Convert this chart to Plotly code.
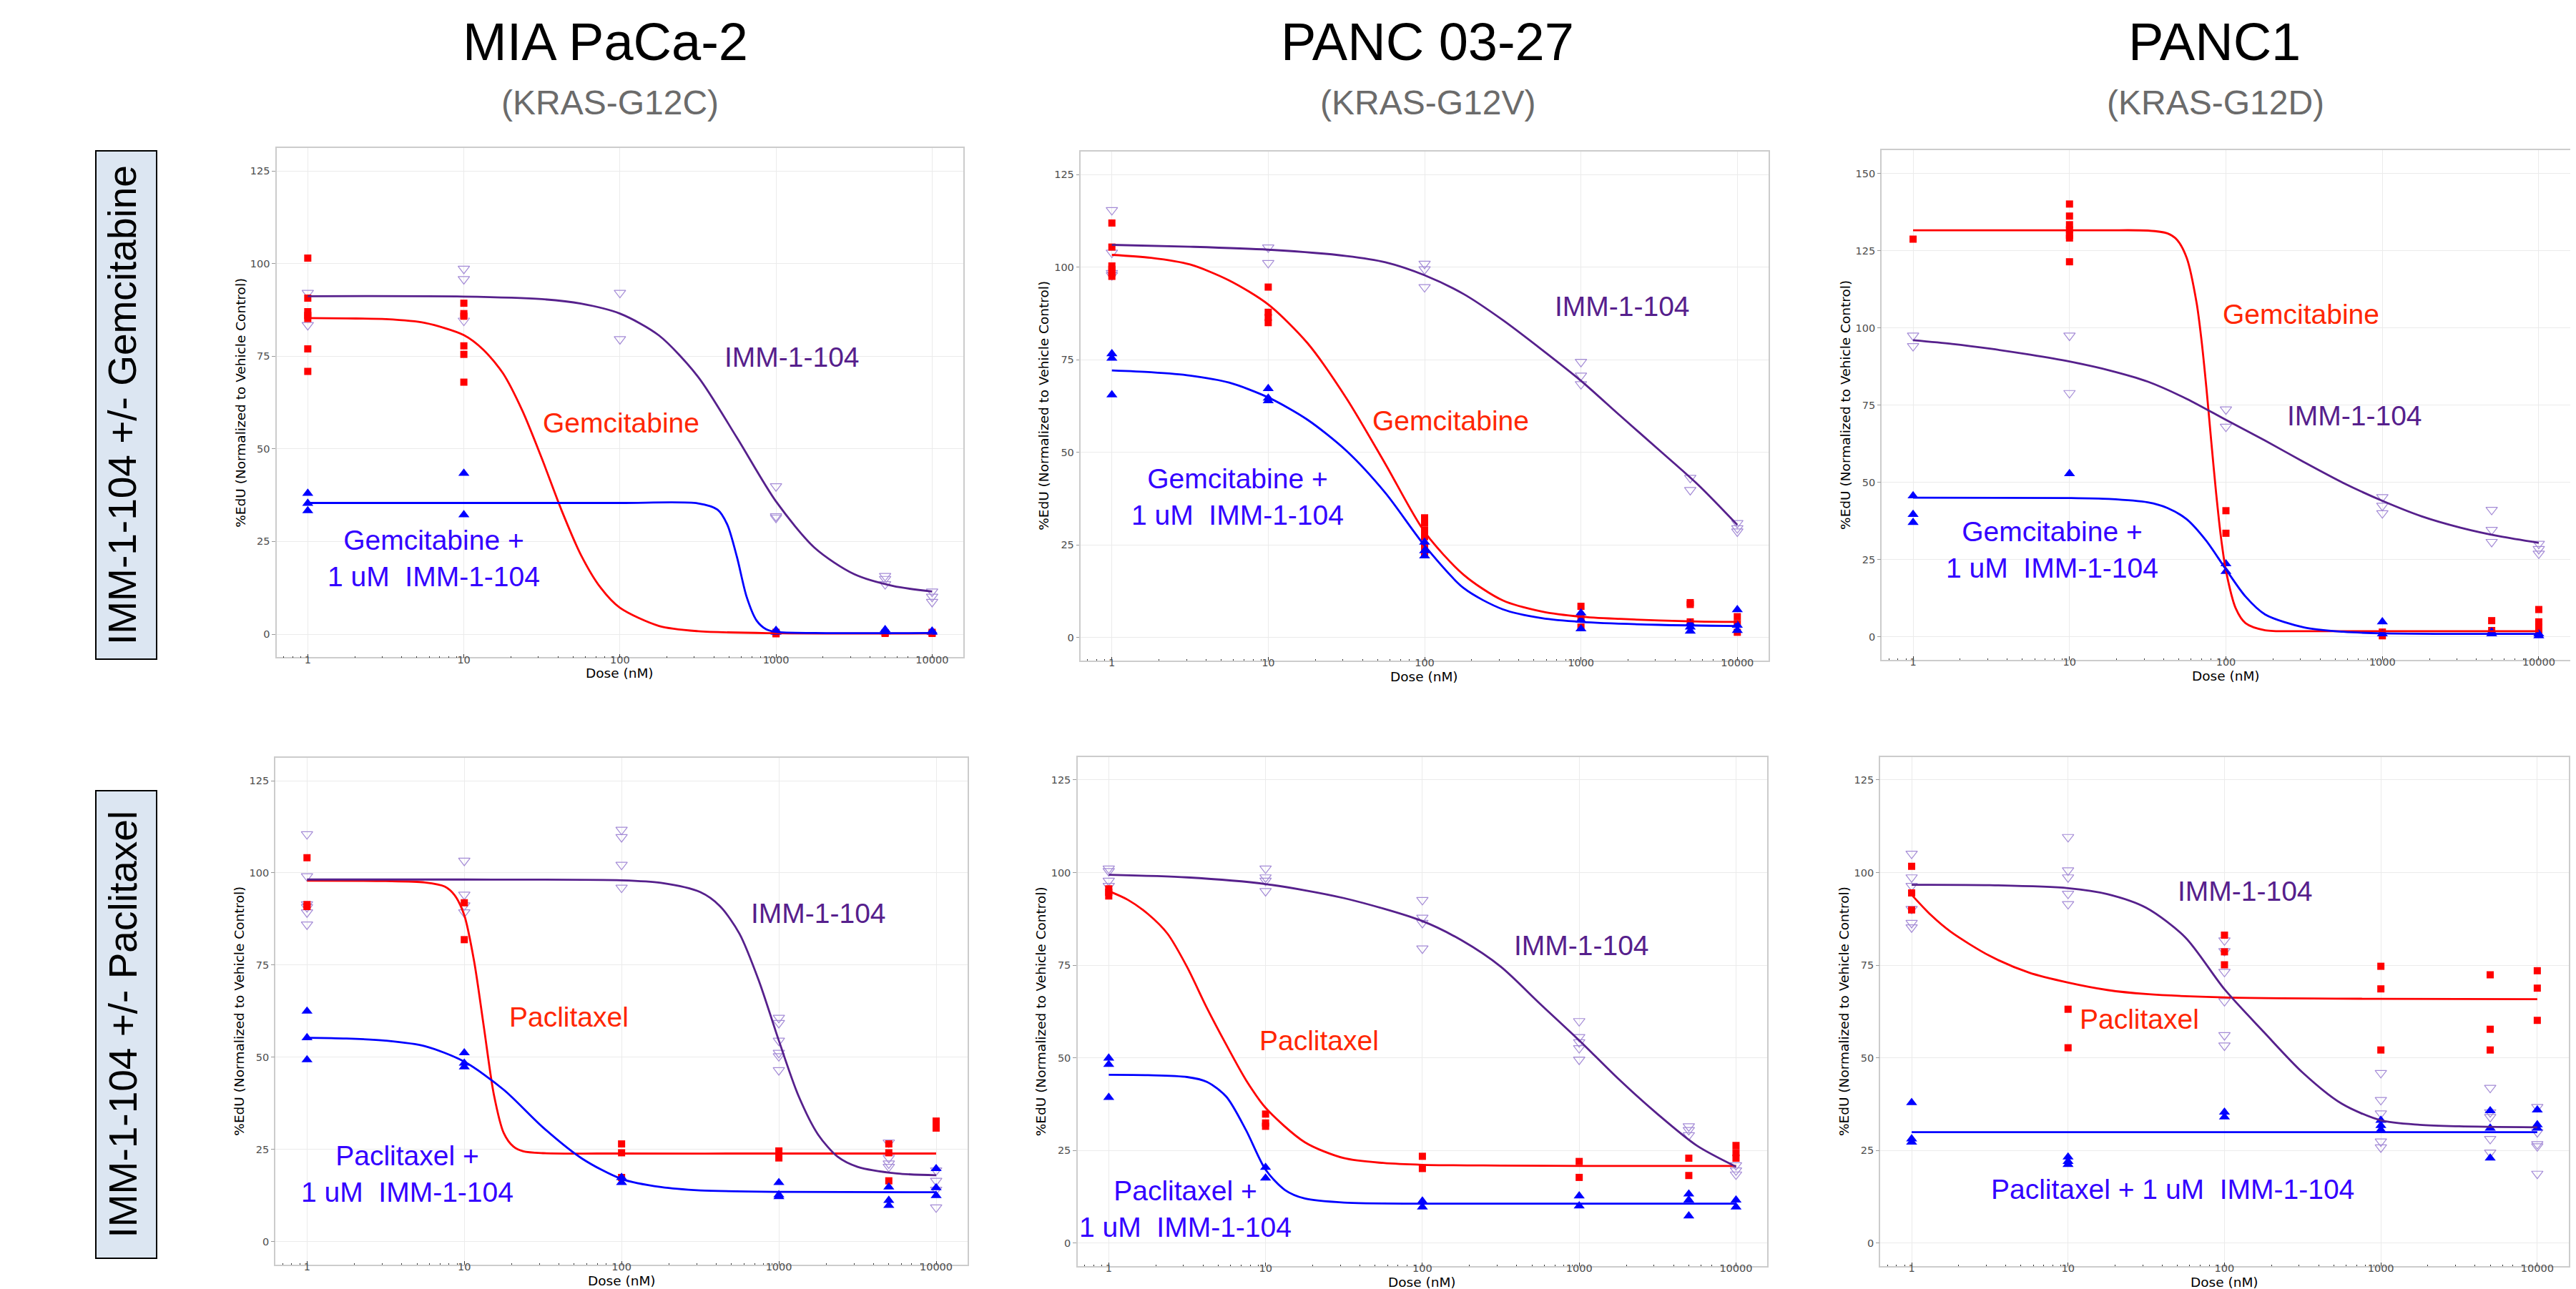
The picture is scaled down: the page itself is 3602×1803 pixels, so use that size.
import plotly.graph_objects as go

# ---------------------------------------------------------------- data
DOSES = [1, 10, 100, 1000, 5000, 10000]
DOSE_TICKS = [1, 10, 100, 1000, 10000]
DOSE_TICK_LABELS = ["1", "10", "100", "1000", "10000"]
Y_TICKS_125 = [0, 25, 50, 75, 100, 125]
Y_TICKS_150 = [0, 25, 50, 75, 100, 125, 150]

CELL_LINES = ["MIA PaCa-2", "PANC 03-27", "PANC1"]
MUTATIONS = ["(KRAS-G12C)", "(KRAS-G12V)", "(KRAS-G12D)"]
ROW_LABELS = ["IMM-1-104 +/- Gemcitabine", "IMM-1-104 +/- Paclitaxel"]
DRUGS = ["Gemcitabine", "Paclitaxel"]
IMM_LABEL = "IMM-1-104"
COMBO_LABELS = ["Gemcitabine +<br>1 uM  IMM-1-104", "Gemcitabine +<br>1 uM  IMM-1-104",
                "Gemcitabine +<br>1 uM  IMM-1-104", "Paclitaxel +<br>1 uM  IMM-1-104",
                "Paclitaxel +<br>1 uM  IMM-1-104", "Paclitaxel + 1 uM  IMM-1-104"]
Y_TITLE = "%EdU (Normalized to Vehicle Control)"
X_TITLE = "Dose (nM)"

# replicate points, one inner list per entry of DOSES
A_GEM_PTS = [[101.5, 90.7, 87.0, 86.0, 85.2, 77.0, 70.9], [89.3, 86.5, 85.8, 77.8, 75.5, 68.0], [], [0.3, 0.1, 0.5], [0.2, 0.4], [0.2, 0.5]]
A_COMBO_PTS = [[38.0, 35.3, 33.3], [43.4, 32.2], [], [1.0, 0.5], [1.2, 0.6], [0.5, 0.8]]
A_IMM_PTS = [[92.1, 83.4], [98.6, 95.8, 84.6], [92.1, 79.6], [39.9, 31.8, 31.4], [15.7, 14.9, 13.5], [11.5, 10.1, 8.7]]

B_GEM_PTS = [[111.9, 105.4, 100.3, 99.4, 98.4, 97.5], [94.6, 87.8, 86.4, 85.0], [32.3, 30.9, 29.0, 27.2, 24.8, 22.9], [8.4, 5.1, 2.8], [9.4, 8.9, 4.2], [5.6, 3.7, 1.4]]
B_COMBO_PTS = [[76.6, 75.4, 65.5], [67.2, 64.6, 63.9], [25.7, 23.4, 22.0], [6.6, 4.7, 2.3], [3.7, 2.8, 1.7], [7.5, 3.3, 1.9]]
B_IMM_PTS = [[115.4, 103.9, 97.8, 98.4], [105.3, 101.1], [100.9, 99.4, 94.6], [74.4, 70.7, 68.4], [43.1, 39.8], [30.9, 29.5, 28.6]]

C_GEM_PTS = [[128.7], [140.1, 136.2, 133.4, 131.7, 130.0, 129.1, 121.4], [40.8, 33.5], [1.5, 0.3], [5.2, 2.0], [8.8, 4.8, 3.1, 0.9]]
C_COMBO_PTS = [[45.6, 39.6, 37.0], [52.8], [23.6, 21.1], [4.8, 0.9], [1.5, 0.9], [0.9, 0.3]]
C_IMM_PTS = [[97.5, 94.1], [97.5, 78.9], [73.6, 68.0], [45.2, 42.4, 40.0], [41.1, 34.6, 30.7], [30.1, 28.4, 26.9]]

D_PAC_PTS = [[104.1, 91.4, 90.9], [91.9, 81.9], [26.5, 24.1, 17.4], [24.6, 22.7], [26.5, 24.1, 16.5], [32.7, 30.8]]
D_COMBO_PTS = [[62.5, 55.3, 49.3], [51.2, 48.4, 47.4], [17.4, 16.0], [16.0, 12.7, 12.2], [14.8, 11.2, 9.8], [19.8, 14.6, 12.5]]
D_IMM_PTS = [[110.5, 99.1, 91.5, 90.7, 89.3, 86.0], [103.3, 94.1, 91.2, 89.3], [111.7, 109.7, 102.2, 96.0], [60.7, 59.3, 54.5, 51.2, 50.3, 46.5], [26.9, 22.7, 21.2, 20.3], [19.3, 16.5, 14.1, 9.3]]

E_PAC_PTS = [[95.6, 94.7, 93.7], [34.8, 32.4, 31.5], [23.4, 20.1], [22.0, 17.7], [22.9, 18.2], [26.3, 24.4, 22.9]]
E_COMBO_PTS = [[49.9, 48.2, 39.3], [20.4, 17.5], [11.3, 9.7], [12.7, 10.0], [13.2, 11.6, 7.3], [11.6, 9.7]]
E_IMM_PTS = [[101.1, 100.4, 97.8, 96.4], [101.1, 98.7, 97.8, 95.0], [92.6, 87.8, 86.4, 79.5], [59.9, 55.6, 54.2, 52.6, 49.5], [31.5, 30.5, 29.1], [21.0, 19.6, 18.5]]

F_PAC_PTS = [[101.7, 94.5, 89.9], [63.1, 52.7], [83.1, 78.6, 75.1], [74.7, 68.6, 52.1], [72.4, 57.7, 52.1], [73.5, 68.8, 60.1]]
F_COMBO_PTS = [[37.9, 28.1, 27.2], [23.2, 22.0, 21.2], [35.3, 34.0], [33.1, 31.7, 30.5], [35.7, 31.0, 22.9], [35.9, 31.9, 31.0]]
F_IMM_PTS = [[105.1, 98.7, 96.4, 90.2, 86.4, 85.2], [109.6, 100.6, 98.7, 94.3, 91.5], [81.7, 78.8, 73.2, 65.3, 56.1, 53.3], [45.9, 38.6, 35.0, 27.4, 25.8], [41.9, 35.3, 34.0, 28.1, 24.4], [36.7, 29.9, 26.7, 26.1, 18.7]]

# fitted dose-response curves (dose in nM, value in %)
A_GEM_FIT_DOSE = [1, 1.78, 3.16, 5.62, 10, 13.3, 17.8, 23.7, 31.6, 42.2, 56.2, 75, 100, 178, 316, 1000, 10000]
A_GEM_FIT = [85.3, 85.2, 85.0, 84.0, 80.7, 76.8, 70.4, 60.3, 47.4, 33.5, 21.4, 12.6, 7.1, 2.2, 0.8, 0.25, 0.2]
A_COMBO_FIT_DOSE = [1, 10, 100, 316, 422, 487, 562, 649, 750, 866, 1000, 1778, 10000]
A_COMBO_FIT = [35.4, 35.4, 35.4, 35.3, 33.6, 29.6, 20.8, 10.0, 3.7, 1.3, 0.6, 0.3, 0.3]
A_IMM_FIT_DOSE = [1, 10, 31.6, 56.2, 100, 178, 316, 562, 1000, 1778, 3162, 5623, 10000]
A_IMM_FIT = [91.2, 91.1, 90.4, 89.2, 86.5, 80.6, 69.5, 53.0, 35.8, 23.2, 16.2, 13.0, 11.5]

B_GEM_FIT_DOSE = [1, 1.78, 3.16, 5.62, 10, 17.8, 31.6, 56.2, 100, 178, 316, 562, 1000, 1778, 3162, 5623, 10000]
B_GEM_FIT = [103.3, 102.5, 100.7, 96.4, 89.9, 79.5, 64.6, 46.8, 28.5, 16.9, 10.0, 7.0, 5.6, 5.0, 4.6, 4.3, 4.2]
B_COMBO_FIT_DOSE = [1, 1.78, 3.16, 5.62, 10, 17.8, 31.6, 56.2, 100, 178, 316, 562, 1000, 3162, 10000]
B_COMBO_FIT = [72.1, 71.6, 70.7, 68.8, 64.8, 58.8, 50.4, 39.0, 24.8, 13.3, 7.6, 5.2, 4.2, 3.4, 3.1]
B_IMM_FIT_DOSE = [1, 3.16, 10, 31.6, 56.2, 100, 178, 316, 562, 1000, 1778, 3162, 5623, 10000]
B_IMM_FIT = [106.0, 105.5, 104.7, 103.0, 101.3, 97.8, 92.7, 85.7, 77.7, 69.3, 59.9, 50.6, 41.2, 30.4]

C_GEM_FIT_DOSE = [1, 10, 17.8, 31.6, 42.2, 48.7, 56.2, 64.9, 69.8, 75, 80.6, 86.6, 93.0, 100, 115.5, 133.4, 178, 316, 1000, 10000]
C_GEM_FIT = [131.6, 131.6, 131.6, 131.5, 130.6, 128.5, 122.6, 108.2, 96.0, 80.6, 63.2, 46.4, 32.1, 21.4, 9.2, 4.4, 2.1, 1.8, 1.8, 1.8]
C_COMBO_FIT_DOSE = [1, 10, 17.8, 31.6, 42.2, 56.2, 75, 100, 133.4, 178, 316, 562, 1000, 10000]
C_COMBO_FIT = [45.0, 44.9, 44.6, 43.5, 41.7, 38.0, 31.0, 21.8, 13.0, 7.2, 3.0, 1.6, 1.1, 0.9]
C_IMM_FIT_DOSE = [1, 1.78, 3.16, 5.62, 10, 17.8, 31.6, 56.2, 100, 178, 316, 562, 1000, 1778, 3162, 5623, 10000]
C_IMM_FIT = [96.0, 94.8, 93.2, 91.3, 89.1, 86.3, 82.6, 77.0, 70.2, 63.5, 56.5, 49.8, 44.0, 39.0, 35.3, 32.5, 30.4]

D_PAC_FIT_DOSE = [1, 3.16, 5.62, 7.5, 8.66, 10, 11.55, 13.34, 15.4, 17.8, 20.5, 23.7, 31.6, 100, 1000, 10000]
D_PAC_FIT = [97.9, 97.8, 97.4, 96.3, 94.0, 88.5, 76.0, 58.0, 40.0, 29.5, 25.8, 24.5, 24.0, 23.9, 23.9, 23.9]
D_COMBO_FIT_DOSE = [1, 1.78, 3.16, 5.62, 10, 17.8, 31.6, 56.2, 100, 178, 316, 1000, 10000]
D_COMBO_FIT = [55.3, 55.1, 54.5, 53.0, 48.8, 41.2, 31.0, 22.5, 17.0, 14.8, 13.9, 13.5, 13.4]
D_IMM_FIT_DOSE = [1, 10, 100, 178, 316, 422, 562, 750, 1000, 1334, 1778, 2371, 3162, 5623, 10000]
D_IMM_FIT = [98.2, 98.2, 98.0, 97.3, 94.8, 91.0, 83.5, 70.5, 54.5, 39.5, 29.0, 23.0, 20.3, 18.5, 18.0]

E_PAC_FIT_DOSE = [1, 1.33, 1.78, 2.37, 3.16, 4.22, 5.62, 7.5, 10, 17.8, 31.6, 56.2, 100, 316, 1000, 10000]
E_PAC_FIT = [95.0, 92.6, 88.8, 83.5, 74.5, 63.5, 53.5, 44.0, 36.5, 27.2, 22.9, 21.6, 21.1, 20.9, 20.8, 20.8]
E_COMBO_FIT_DOSE = [1, 1.78, 3.16, 4.22, 5.62, 7.5, 10, 13.3, 17.8, 31.6, 100, 10000]
E_COMBO_FIT = [45.4, 45.3, 44.8, 43.5, 39.5, 30.5, 19.8, 14.3, 12.0, 10.9, 10.6, 10.6]
E_IMM_FIT_DOSE = [1, 3.16, 10, 31.6, 100, 178, 316, 562, 1000, 1778, 3162, 5623, 10000]
E_IMM_FIT = [99.4, 98.7, 96.9, 93.1, 86.9, 81.7, 74.6, 64.6, 54.7, 44.3, 34.8, 26.3, 20.6]

F_PAC_FIT_DOSE = [1, 1.33, 1.78, 3.16, 5.62, 10, 17.8, 31.6, 100, 1000, 10000]
F_PAC_FIT = [94.0, 88.5, 84.0, 77.5, 73.0, 70.3, 68.3, 67.2, 66.3, 65.9, 65.8]
F_COMBO_FIT_DOSE = [1, 10000]
F_COMBO_FIT = [29.9, 29.9]
F_IMM_FIT_DOSE = [1, 3.16, 10, 17.8, 31.6, 56.2, 100, 178, 316, 562, 1000, 1778, 3162, 10000]
F_IMM_FIT = [96.7, 96.6, 95.8, 94.2, 90.5, 82.5, 68.5, 57.0, 46.0, 37.6, 33.1, 31.9, 31.5, 31.2]

# ---------------------------------------------------------------- styles / layout
W, H = 3602, 1803
RED, BLUE, PURPLE, PURPLE_PT = "#ff0000", "#0000ff", "#56208c", "#a48bd6"
TXT_RED, TXT_BLUE, TXT_PURPLE = "#ff2600", "#3300ff", "#56208c"
SANS = "Liberation Sans, Arial, Helvetica, sans-serif"
AXFONT = "DejaVu Sans, Verdana, sans-serif"

# panel frames in pixels: left, top, right, bottom
FRAMES = [(378.7, 198.7, 1339, 911.4), (1503, 203.7, 2465, 916), (2623.3, 202.2, 3585.7, 915),
          (377.3, 1051.8, 1345, 1761), (1498.5, 1050.6, 2463.3, 1763), (2621.3, 1050.6, 3583.6, 1763)]
# label positions (log10 dose, value): drug, IMM, combo
LABEL_POS = [
    ((2.04, 55.5), (3.134, 73.2), (0.84, 19.0)),
    ((2.20, 56.9), (3.297, 87.8), (0.835, 36.5)),
    ((2.514, 102.5), (2.853, 69.7), (0.919, 26.3)),
    ((1.699, 59.3), (3.285, 87.4), (0.67, 16.9)),
    ((1.373, 53.1), (3.048, 78.8), (0.52, 7.6)),
    ((1.49, 58.9), (2.166, 93.5), (1.699, 12.9)),
]

PANELS = [
    (A_GEM_PTS, A_COMBO_PTS, A_IMM_PTS, (A_GEM_FIT_DOSE, A_GEM_FIT), (A_COMBO_FIT_DOSE, A_COMBO_FIT), (A_IMM_FIT_DOSE, A_IMM_FIT), Y_TICKS_125),
    (B_GEM_PTS, B_COMBO_PTS, B_IMM_PTS, (B_GEM_FIT_DOSE, B_GEM_FIT), (B_COMBO_FIT_DOSE, B_COMBO_FIT), (B_IMM_FIT_DOSE, B_IMM_FIT), Y_TICKS_125),
    (C_GEM_PTS, C_COMBO_PTS, C_IMM_PTS, (C_GEM_FIT_DOSE, C_GEM_FIT), (C_COMBO_FIT_DOSE, C_COMBO_FIT), (C_IMM_FIT_DOSE, C_IMM_FIT), Y_TICKS_150),
    (D_PAC_PTS, D_COMBO_PTS, D_IMM_PTS, (D_PAC_FIT_DOSE, D_PAC_FIT), (D_COMBO_FIT_DOSE, D_COMBO_FIT), (D_IMM_FIT_DOSE, D_IMM_FIT), Y_TICKS_125),
    (E_PAC_PTS, E_COMBO_PTS, E_IMM_PTS, (E_PAC_FIT_DOSE, E_PAC_FIT), (E_COMBO_FIT_DOSE, E_COMBO_FIT), (E_IMM_FIT_DOSE, E_IMM_FIT), Y_TICKS_125),
    (F_PAC_PTS, F_COMBO_PTS, F_IMM_PTS, (F_PAC_FIT_DOSE, F_PAC_FIT), (F_COMBO_FIT_DOSE, F_COMBO_FIT), (F_IMM_FIT_DOSE, F_IMM_FIT), Y_TICKS_125),
]


def flat(pts):
    xs, ys = [], []
    for d, vals in zip(DOSES, pts):
        for v in vals:
            xs.append(d)
            ys.append(v)
    return xs, ys


fig = go.Figure()
annotations = []
shapes = []
layout_axes = {}

for i, (drug_pts, combo_pts, imm_pts, drug_fit, combo_fit, imm_fit, yticks) in enumerate(PANELS):
    n = i + 1
    xa, ya = ("x" if n == 1 else f"x{n}"), ("y" if n == 1 else f"y{n}")
    L, T, R, B = FRAMES[i]
    ymax = yticks[-1]
    pad = ymax * 0.05

    for pts, sym, size, col in ((imm_pts, "triangle-down-open", 14, PURPLE_PT),
                                (drug_pts, "square", 10, RED),
                                (combo_pts, "triangle-up", 13.5, BLUE)):
        xs, ys = flat(pts)
        fig.add_trace(go.Scatter(x=xs, y=ys, mode="markers", xaxis=xa, yaxis=ya,
                                 marker=dict(symbol=sym, size=size, color=col,
                                             line=dict(width=1.2 if "open" in sym else 0, color=col)),
                                 showlegend=False, hoverinfo="skip"))
    for (fx, fy), col in ((drug_fit, RED), (combo_fit, BLUE), (imm_fit, PURPLE)):
        fig.add_trace(go.Scatter(x=fx, y=fy, mode="lines", xaxis=xa, yaxis=ya,
                                 line=dict(color=col, width=2.8, shape="spline", smoothing=0.8),
                                 showlegend=False, hoverinfo="skip"))

    key = "" if n == 1 else str(n)
    layout_axes["xaxis" + key] = dict(
        type="log", range=[-0.2, 4.2], domain=[L / W, R / W], anchor=ya,
        tickvals=DOSE_TICKS, ticktext=DOSE_TICK_LABELS,
        ticks="inside", ticklen=5, tickwidth=1, tickcolor="#333333", ticklabelstandoff=-11,
        minor=dict(ticks="inside", ticklen=2, tickwidth=1, tickcolor="#333333", dtick="D1", showgrid=False),
        showgrid=True, gridcolor="#ebebeb", gridwidth=1,
        showline=True, mirror=True, linecolor="#cccccc", linewidth=1.5, zeroline=False,
        tickfont=dict(family=AXFONT, size=14.5, color="#4d4d4d"))
    layout_axes["yaxis" + key] = dict(
        range=[-pad, ymax + pad], domain=[1 - B / H, 1 - T / H], anchor=xa,
        tickvals=yticks, ticks="outside", ticklen=4.5, tickwidth=1, tickcolor="#9a9a9a",
        showgrid=True, gridcolor="#ebebeb", gridwidth=1,
        showline=True, mirror=True, linecolor="#cccccc", linewidth=1.5, zeroline=False,
        tickfont=dict(family=AXFONT, size=14.5, color="#4d4d4d"))

    # in-panel labels
    row = 0 if i < 3 else 1
    (dx, dy), (ix, iy), (cx, cy) = LABEL_POS[i]
    for (x, y), txt, col in (((dx, dy), DRUGS[row], TXT_RED), ((ix, iy), IMM_LABEL, TXT_PURPLE),
                             ((cx, cy), COMBO_LABELS[i], TXT_BLUE)):
        annotations.append(dict(x=x, y=y, xref=xa, yref=ya, text=txt, showarrow=False,
                                font=dict(family=SANS, size=39, color=col), align="center",
                                xanchor="center", yanchor="middle", xshift=-7, yshift=8))
    # axis titles
    annotations.append(dict(x=(L - 51) / W, y=1 - (T + B) / 2 / H, xref="paper", yref="paper",
                            text=Y_TITLE, textangle=-90, showarrow=False,
                            font=dict(family=AXFONT, size=18.5, color="#000000"),
                            xanchor="center", yanchor="middle"))
    annotations.append(dict(x=(L + R) / 2 / W, y=1 - (B + 22) / H, xref="paper", yref="paper",
                            text=X_TITLE, showarrow=False,
                            font=dict(family=AXFONT, size=18.5, color="#000000"),
                            xanchor="center", yanchor="middle"))

# column titles
TITLE_X = [838, 1988, 3088]
SUB_X = [845, 1989, 3090]
for name, mut, tx, sx in zip(CELL_LINES, MUTATIONS, TITLE_X, SUB_X):
    annotations.append(dict(x=tx / W, y=1 - 51 / H, xref="paper", yref="paper", text=name,
                            showarrow=False, font=dict(family=SANS, size=74, color="#000000"),
                            xanchor="center", yanchor="middle"))
    annotations.append(dict(x=sx / W, y=1 - 135 / H, xref="paper", yref="paper", text=mut,
                            showarrow=False, font=dict(family=SANS, size=48, color="#6b6b6b"),
                            xanchor="center", yanchor="middle"))

# row label boxes
BOXES = [(126, 203, 211, 914), (126, 1098, 211, 1752)]
for label, (bx0, by0, bx1, by1) in zip(ROW_LABELS, BOXES):
    shapes.append(dict(type="rect", xref="paper", yref="paper",
                       x0=bx0 / W, x1=bx1 / W, y0=1 - by1 / H, y1=1 - by0 / H,
                       fillcolor="#dce6f2", line=dict(color="#000000", width=2)))
    annotations.append(dict(x=(bx0 + bx1) / 2 / W, y=1 - (by0 + by1) / 2 / H, xref="paper", yref="paper",
                            text=label, textangle=-90, showarrow=False,
                            font=dict(family=SANS, size=55, color="#000000"),
                            xanchor="center", yanchor="middle", xshift=-5))

fig.update_layout(width=W, height=H, margin=dict(l=0, r=0, t=0, b=0),
                  paper_bgcolor="white", plot_bgcolor="white", showlegend=False,
                  annotations=annotations, shapes=shapes, **layout_axes)

fig.write_html("out.html")
